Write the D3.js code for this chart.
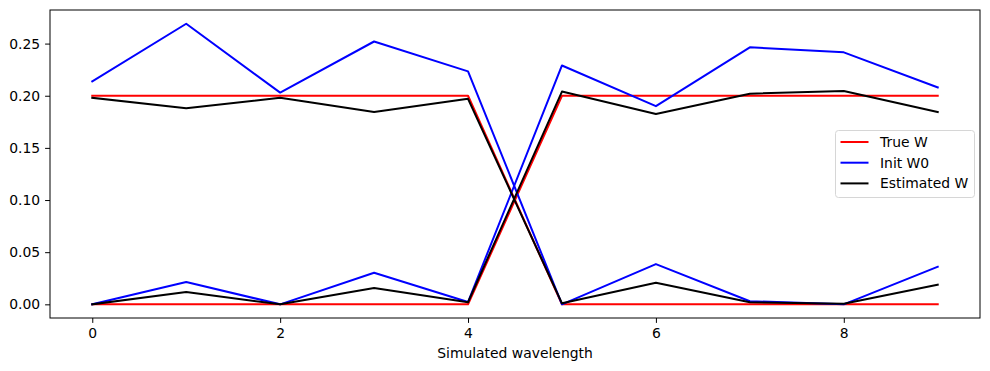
<!DOCTYPE html>
<html>
<head>
<meta charset="utf-8">
<script src="https://cdn.jsdelivr.net/npm/d3@7"></script>
<style>
body { margin: 0; background: #fff; }
text { font-family: "DejaVu Sans", sans-serif; }
</style>
</head>
<body>
<svg id="chart" width="990" height="371"></svg>
<script>
// wavelength index
var wavelength = [0, 1, 2, 3, 4, 5, 6, 7, 8, 9];

// two columns for each matrix
var trueW1 = [0.2, 0.2, 0.2, 0.2, 0.2, 0, 0, 0, 0, 0];
var trueW2 = [0, 0, 0, 0, 0, 0.2, 0.2, 0.2, 0.2, 0.2];
var initW1 = [0.2138, 0.269, 0.203, 0.252, 0.2234, 0, 0.0386, 0.003, 0.0, 0.036];
var initW2 = [0.0, 0.0214, 0.0, 0.0303, 0.0022, 0.229, 0.190, 0.2464, 0.2416, 0.208];
var estW1 = [0.198, 0.188, 0.198, 0.1844, 0.197, 0.001, 0.0207, 0.002, 0.0005, 0.0188];
var estW2 = [0.0, 0.0118, 0.0, 0.0156, 0.002, 0.204, 0.1825, 0.202, 0.2045, 0.1844];

var xTicks = [0, 2, 4, 6, 8];
var yTicks = [0, 0.05, 0.1, 0.15, 0.2, 0.25];
var legendNames = ['True W', 'Init W0', 'Estimated W'];

var margin = { left: 50, top: 10, right: 10, bottom: 53 };
var W = 990, H = 371;
var fs = 13.9;

var svg = d3.select('#chart');

var x = d3.scaleLinear().domain([-0.45, 9.45]).range([margin.left, W - margin.right]);
var y = d3.scaleLinear().domain([-0.0131, 0.2822]).range([H - margin.bottom, margin.top]);

var line = d3.line()
	.x(function(d, i) { return x(wavelength[i]); })
	.y(function(d) { return y(d); });

var series = [
	{ data: trueW1, color: 'red' },
	{ data: trueW2, color: 'red' },
	{ data: initW1, color: 'blue' },
	{ data: initW2, color: 'blue' },
	{ data: estW1, color: 'black' },
	{ data: estW2, color: 'black' }
];

var plot = svg.append('g');
plot.selectAll('path.series')
	.data(series)
	.enter()
	.append('path')
	.attr('class', 'series')
	.attr('d', function(d) { return line(d.data); })
	.attr('fill', 'none')
	.attr('stroke', function(d) { return d.color; })
	.attr('stroke-width', 2)
	.attr('stroke-linejoin', 'round')
	.attr('stroke-linecap', 'square');

// axes
var xAxis = svg.append('g')
	.attr('transform', 'translate(0,' + (H - margin.bottom) + ')')
	.call(d3.axisBottom(x).tickValues(xTicks).tickFormat(d3.format('d')).tickSize(4.9).tickPadding(4.9));
var yAxis = svg.append('g')
	.attr('transform', 'translate(' + margin.left + ',0)')
	.call(d3.axisLeft(y).tickValues(yTicks).tickFormat(d3.format('.2f')).tickSize(4.9).tickPadding(4.9));

[xAxis, yAxis].forEach(function(a) {
	a.select('.domain').remove();
	a.selectAll('text').attr('font-size', fs).attr('font-family', 'DejaVu Sans').attr('fill', '#000');
	a.selectAll('line').attr('stroke', '#000').attr('stroke-width', 1);
});

// frame
svg.append('rect')
	.attr('x', margin.left)
	.attr('y', margin.top)
	.attr('width', W - margin.left - margin.right)
	.attr('height', H - margin.top - margin.bottom)
	.attr('fill', 'none')
	.attr('stroke', '#000')
	.attr('stroke-width', 1);

svg.append('text')
	.attr('x', (margin.left + W - margin.right) / 2)
	.attr('y', 358)
	.attr('text-anchor', 'middle')
	.attr('font-size', fs)
	.text('Simulated wavelength');

// legend
var legend = svg.append('g').attr('transform', 'translate(835.5,130.5)');
legend.append('rect')
	.attr('width', 139)
	.attr('height', 67)
	.attr('rx', 3)
	.attr('fill', 'rgba(255,255,255,0.8)')
	.attr('stroke', '#d6d6d6')
	.attr('stroke-width', 1);
var colors = ['red', 'blue', 'black'];
var item = legend.selectAll('g.item')
	.data(legendNames)
	.enter()
	.append('g')
	.attr('class', 'item')
	.attr('transform', function(d, i) { return 'translate(0,' + (11.5 + i * 20.7) + ')'; });
item.append('line')
	.attr('x1', 5).attr('x2', 33)
	.attr('stroke', function(d, i) { return colors[i]; })
	.attr('stroke-width', 2);
item.append('text')
	.attr('x', 44.5)
	.attr('dy', '0.35em')
	.attr('font-size', fs)
	.text(function(d) { return d; });
</script>
</body>
</html>
